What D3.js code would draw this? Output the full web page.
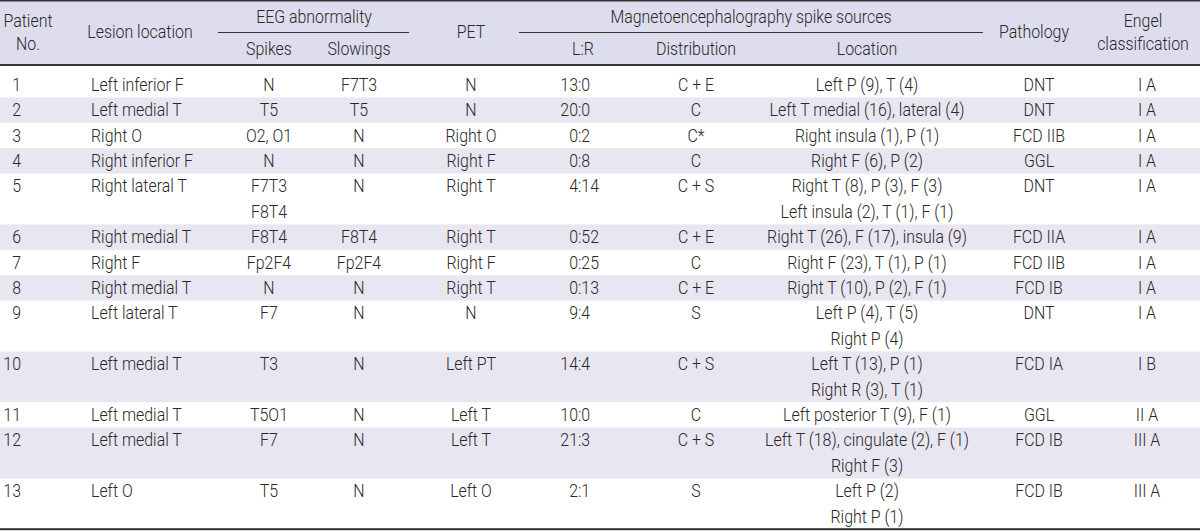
<!DOCTYPE html>
<html>
<head>
<meta charset="utf-8">
<script src="https://cdn.jsdelivr.net/npm/d3@7/dist/d3.min.js"></script>
<style>
  body { margin: 0; background: #fff; }
  svg text { font-family: Roboto, "Liberation Sans", sans-serif; font-weight: 300; font-size: 17.5px; fill: #2a2728; }
</style>
</head>
<body>
<div id="chart"></div>
<script>
// table data, one array per column ("\n" = second line in the cell)
const patients = ["1", "2", "3", "4", "5", "6", "7", "8", "9", "10", "11", "12", "13"];
const lesion = ["Left inferior F", "Left medial T", "Right O", "Right inferior F", "Right lateral T",
  "Right medial T", "Right F", "Right medial T", "Left lateral T", "Left medial T",
  "Left medial T", "Left medial T", "Left O"];
const spikes = ["N", "T5", "O2, O1", "N", "F7T3\nF8T4", "F8T4", "Fp2F4", "N", "F7", "T3", "T5O1", "F7", "T5"];
const slowings = ["F7T3", "T5", "N", "N", "N", "F8T4", "Fp2F4", "N", "N", "N", "N", "N", "N"];
const pet = ["N", "N", "Right O", "Right F", "Right T", "Right T", "Right F", "Right T", "N", "Left PT", "Left T", "Left T", "Left O"];
const ratio = ["13:0", "20:0", "0:2", "0:8", "4:14", "0:52", "0:25", "0:13", "9:4", "14:4", "10:0", "21:3", "2:1"];
const distribution = ["C + E", "C", "C*", "C", "C + S", "C + E", "C", "C + E", "S", "C + S", "C", "C + S", "S"];
const spikeLocation = ["Left P (9), T (4)", "Left T medial (16), lateral (4)", "Right insula (1), P (1)",
  "Right F (6), P (2)", "Right T (8), P (3), F (3)\nLeft insula (2), T (1), F (1)",
  "Right T (26), F (17), insula (9)", "Right F (23), T (1), P (1)", "Right T (10), P (2), F (1)",
  "Left P (4), T (5)\nRight P (4)", "Left T (13), P (1)\nRight R (3), T (1)",
  "Left posterior T (9), F (1)", "Left T (18), cingulate (2), F (1)\nRight F (3)", "Left P (2)\nRight P (1)"];
const pathology = ["DNT", "DNT", "FCD IIB", "GGL", "DNT", "FCD IIA", "FCD IIB", "FCD IB", "DNT", "FCD IA", "GGL", "FCD IB", "FCD IB"];
const engel = ["I A", "I A", "I A", "I A", "I A", "I A", "I A", "I A", "I A", "I B", "II A", "III A", "III A"];

const width = 1200, height = 531;
const headBottom = 64, bodyTop = 72, lineH = 25.4;
const narrow = 0.91; // the source font is condensed

const svg = d3.select("#chart").append("svg")
  .attr("width", width)
  .attr("height", height);

// put a text at (x, y) and squeeze it horizontally around its anchor
function place(sel, xf, yf) {
  sel.attr("transform", d => `translate(${xf(d)},${yf(d)}) scale(${narrow},1)`)
    .attr("dy", "0.35em");
}

// columns: x position and alignment
const columns = [
  { key: "patient", values: patients, x: 21, anchor: "end" },
  { key: "lesion", values: lesion, x: 91, anchor: "start" },
  { key: "spikes", values: spikes, x: 269, anchor: "middle" },
  { key: "slowings", values: slowings, x: 359, anchor: "middle" },
  { key: "pet", values: pet, x: 471, anchor: "middle" },
  { key: "distribution", values: distribution, x: 696, anchor: "middle" },
  { key: "location", values: spikeLocation, x: 867, anchor: "middle" },
  { key: "pathology", values: pathology, x: 1039, anchor: "middle" },
  { key: "engel", values: engel, x: 1147, anchor: "middle" }
];
const colonX = 578; // L:R column is aligned on the colon

// number of text lines per row -> row tops
const rowLines = patients.map((p, i) => d3.max(columns, c => c.values[i].split("\n").length));
const lineStart = d3.cumsum([0].concat(rowLines));
const y = d3.scaleLinear().domain([0, 1]).range([bodyTop, bodyTop + lineH]);

// header background + striped rows
svg.append("rect").attr("x", 0).attr("y", 0).attr("width", width).attr("height", headBottom).attr("fill", "#dedded");
svg.selectAll("rect.stripe")
  .data(patients.map((p, i) => i).filter(i => i % 2 === 1))
  .enter().append("rect")
  .attr("class", "stripe")
  .attr("x", 0)
  .attr("y", i => y(lineStart[i]))
  .attr("width", width)
  .attr("height", i => y(lineStart[i + 1]) - y(lineStart[i]))
  .attr("fill", "#e7e6f1");

// rules
svg.append("rect").attr("x", 0).attr("y", 0).attr("width", width).attr("height", 1.5).attr("fill", "#333");
svg.append("rect").attr("x", 0).attr("y", headBottom).attr("width", width).attr("height", 2).attr("fill", "#333");
svg.append("rect").attr("x", 0).attr("y", y(lineStart[patients.length]) - 1).attr("width", width).attr("height", 2).attr("fill", "#333");
svg.append("line").attr("x1", 218).attr("x2", 409).attr("y1", 32.5).attr("y2", 32.5).attr("stroke", "#333").attr("stroke-width", 1.2);
svg.append("line").attr("x1", 519).attr("x2", 983).attr("y1", 32.5).attr("y2", 32.5).attr("stroke", "#333").attr("stroke-width", 1.2);

// header labels
const headers = [
  { t: "Patient", x: 28, y: 21 }, { t: "No.", x: 28, y: 44 },
  { t: "Lesion location", x: 140, y: 32 },
  { t: "EEG abnormality", x: 314, y: 17 },
  { t: "Spikes", x: 269, y: 49 }, { t: "Slowings", x: 359, y: 49 },
  { t: "PET", x: 471, y: 32 },
  { t: "Magnetoencephalography spike sources", x: 751, y: 17 },
  { t: "L:R", x: 583, y: 49 }, { t: "Distribution", x: 696, y: 49 }, { t: "Location", x: 867, y: 49 },
  { t: "Pathology", x: 1034, y: 32 },
  { t: "Engel", x: 1143, y: 21 }, { t: "classification", x: 1143, y: 44 }
];
svg.selectAll("text.head")
  .data(headers)
  .enter().append("text")
  .attr("class", "head")
  .attr("text-anchor", "middle")
  .text(d => d.t)
  .call(place, d => d.x, d => d.y);

// body cells
columns.forEach(col => {
  const cells = [];
  col.values.forEach((v, i) => {
    v.split("\n").forEach((line, k) => cells.push({ line, row: i, k }));
  });
  svg.selectAll("text.c-" + col.key)
    .data(cells)
    .enter().append("text")
    .attr("class", "c-" + col.key)
    .attr("text-anchor", col.anchor)
    .text(d => d.line)
    .call(place, () => col.x, d => y(lineStart[d.row] + d.k + 0.5));
});

// L:R column, left part ends at the colon
const lr = ratio.map((r, i) => ({ l: r.split(":")[0], r: r.split(":")[1], row: i }));
svg.selectAll("text.lr-left")
  .data(lr).enter().append("text")
  .attr("class", "lr-left")
  .attr("text-anchor", "end")
  .text(d => d.l)
  .call(place, () => colonX, d => y(lineStart[d.row] + 0.5));
svg.selectAll("text.lr-right")
  .data(lr).enter().append("text")
  .attr("class", "lr-right")
  .attr("text-anchor", "start")
  .text(d => ":" + d.r)
  .call(place, () => colonX, d => y(lineStart[d.row] + 0.5));
</script>
</body>
</html>
